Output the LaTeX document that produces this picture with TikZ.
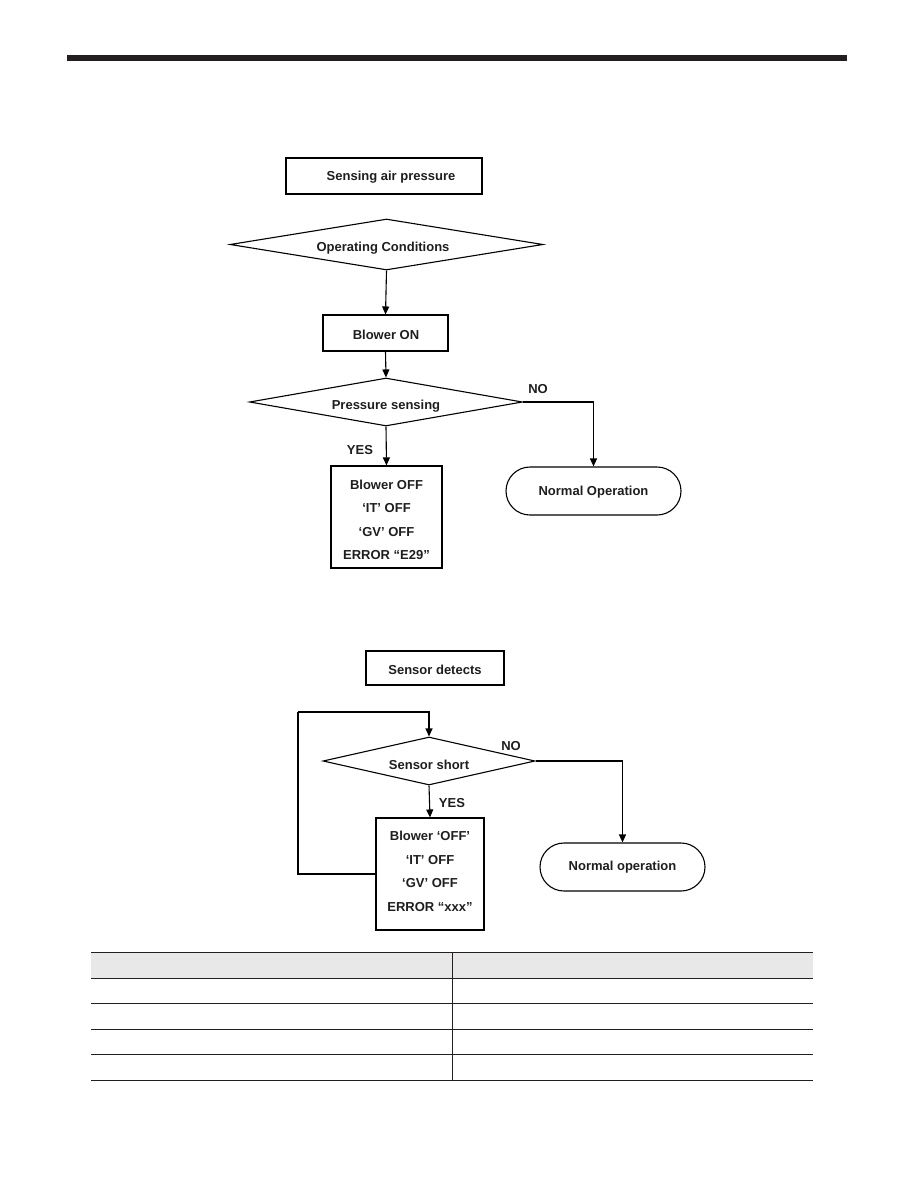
\documentclass[tikz,border=0pt]{standalone}
\usepackage{fontspec}
\setmainfont{Liberation Sans}
\usetikzlibrary{arrows.meta,shapes.geometric}
\begin{document}
\begin{tikzpicture}[x=1pt,y=-1pt,
  every node/.style={inner sep=0pt},
  txt/.style={font=\bfseries\fontsize{13}{23.5}\selectfont, align=center, text={rgb,255:red,30;green,30;blue,30}},
  box/.style={draw, line width=1.1pt, rectangle},
  dia/.style={draw, line width=1.1pt, diamond},
  term/.style={draw, line width=1.1pt, rectangle, rounded corners=24pt},
  conn/.style={line width=1.1pt},
  arr/.style={line width=1.1pt, -{Triangle[length=8pt,width=7pt]}}]
\useasboundingbox (0,0) rectangle (918,1188);
% top bar
\fill[fill={rgb,255:red,35;green,31;blue,32}] (67,55) rectangle (847,61);

% ---------- flowchart 1 ----------
\node[box, minimum width=196pt, minimum height=36pt] (s1) at (384,176) {};
\node[txt] (s1t) at (391,177.5) {Sensing air pressure};
\node[dia, minimum width=313pt, minimum height=51pt] (d1) at (386.5,244.5) {};
\node[txt] (d1t) at (383,248) {Operating Conditions};
\node[box, minimum width=125pt, minimum height=36pt] (b1) at (385.5,333) {};
\node[txt] (b1t) at (386,334.5) {Blower ON};
\node[dia, minimum width=273pt, minimum height=48pt] (d2) at (386,402) {};
\node[txt] (d2t) at (386,406) {Pressure sensing};
\node[box, minimum width=111pt, minimum height=102pt] (e1) at (386.5,517) {};
\node[txt] (e1t) at (386.5,520) {Blower OFF\\‘IT’ OFF\\‘GV’ OFF\\ERROR “E29”};
\node[term, minimum width=175pt, minimum height=48pt] (n1) at (593.5,491) {};
\node[txt] (n1t) at (593.5,492) {Normal Operation};
\node[txt] (no1) at (538,389) {NO};
\node[txt] (yes1) at (360,450) {YES};
\draw[arr] (d1.south) -- (b1.north);
\draw[arr] (b1.south) -- (d2.north);
\draw[arr] (d2.south) -- (e1.north);
\draw[arr] (d2.east) -| (n1.north);

% ---------- flowchart 2 ----------
\node[box, minimum width=138pt, minimum height=34pt] (s2) at (435,668) {};
\node[txt] (s2t) at (435,669.5) {Sensor detects};
\node[dia, minimum width=212pt, minimum height=48pt] (d3) at (429,761) {};
\node[txt] (d3t) at (429,765) {Sensor short};
\node[box, minimum width=108pt, minimum height=112pt] (e2) at (430,874) {};
\node[txt] (e2t) at (430,871.5) {Blower ‘OFF’\\‘IT’ OFF\\‘GV’ OFF\\ERROR “xxx”};
\node[term, minimum width=165pt, minimum height=48pt] (n2) at (622.5,867) {};
\node[txt] (n2t) at (622.5,867.5) {Normal operation};
\node[txt] (no2) at (511,746) {NO};
\node[txt] (yes2) at (452,803) {YES};
\coordinate (lp) at (298,712);
\draw[arr] (d3.south) -- (e2.north);
\draw[arr] (d3.east) -| (n2.north);
\draw[conn] (e2.west) -| (lp);
\draw[arr] (lp) -| (d3.north);

% ---------- table ----------
\fill[fill={rgb,255:red,232;green,232;blue,232}] (91,952) rectangle (813,978);
\foreach \yy in {952,978,1003,1029,1054,1080}
  \draw[line width=1pt, draw={rgb,255:red,35;green,31;blue,32}] (91,\yy) -- (813,\yy);
\draw[line width=1pt, draw={rgb,255:red,35;green,31;blue,32}] (452,952) -- (452,1080);
\end{tikzpicture}
\end{document}
